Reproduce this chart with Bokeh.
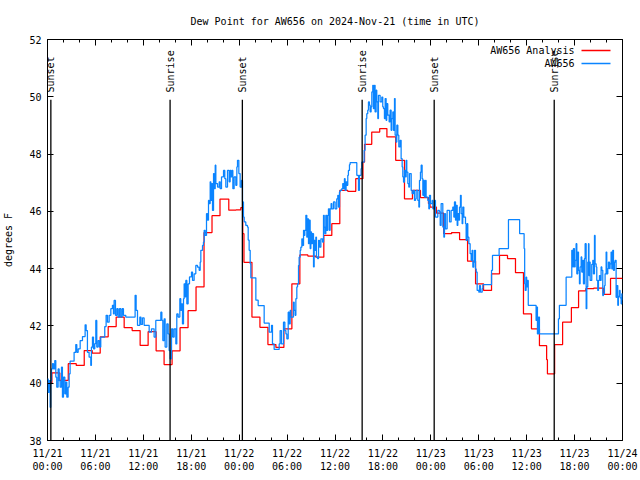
from bokeh.plotting import figure
from bokeh.models import FixedTicker, LinearAxis, Range1d, Label, Arrow
from bokeh.core.properties import value
from bokeh.embed import file_html
from bokeh.resources import INLINE

# ---------------- data ----------------
title_text = "Dew Point for AW656 on 2024-Nov-21 (time in UTC)"
y_label = "degrees F"
series_names = ["AW656 Analysis", "AW656"]

# hours since 2024-11-21 00:00 UTC
x_ticks = [0, 6, 12, 18, 24, 30, 36, 42, 48, 54, 60, 66, 72]
x_minor = list(range(0, 73, 2))
x_tick_labels = ["11/21\n00:00", "11/21\n06:00", "11/21\n12:00", "11/21\n18:00",
                 "11/22\n00:00", "11/22\n06:00", "11/22\n12:00", "11/22\n18:00",
                 "11/23\n00:00", "11/23\n06:00", "11/23\n12:00", "11/23\n18:00",
                 "11/24\n00:00"]
y_ticks = [38, 40, 42, 44, 46, 48, 50, 52]

sun_times = [0.42, 15.35, 24.4, 39.4, 48.42, 63.45]
sun_names = ["Sunset", "Sunrise", "Sunset", "Sunrise", "Sunset", "Sunrise"]

analysis_t = [0.0, 0.55, 1.55, 2.6, 3.6, 4.6, 5.6, 6.6, 7.6, 8.6, 9.6, 10.6, 11.6,
              12.6, 13.6, 14.6, 15.6, 16.6, 17.6, 18.6, 19.6, 20.6, 21.6, 22.7,
              23.6, 24.2, 24.45, 24.6, 25.6, 26.6, 27.6, 28.6, 29.6, 30.6, 31.6,
              32.6, 33.6, 34.6, 35.6, 36.6, 37.6, 38.6, 39.5, 39.7, 40.6, 41.6,
              42.5, 43.6, 44.7, 45.7, 46.7, 47.7, 47.9, 48.7, 49.6, 50.6, 51.6,
              52.6, 53.6, 54.6, 55.6, 56.6, 57.6, 58.6, 59.6, 60.6, 61.6, 62.5,
              62.6, 63.5, 64.5, 65.6, 66.5, 67.4, 68.4, 69.6, 70.5, 72.0]
analysis_v = [40.0, 40.36, 40.10, 40.68, 40.62, 41.14, 41.05, 41.62, 41.98, 42.31,
              41.94, 41.84, 41.32, 41.80, 41.13, 40.65, 41.13, 41.94, 42.53, 43.36,
              45.26, 45.85, 46.43, 46.04, 46.05, 46.13, 45.22, 44.22, 42.31, 41.95,
              41.35, 41.25, 41.90, 43.47, 44.48, 44.44, 44.40, 45.16, 45.57, 46.73,
              46.70, 47.14, 47.72, 48.34, 48.77, 48.89, 48.60, 47.78, 46.44, 46.73,
              46.48, 46.27, 46.15, 45.94, 45.22, 45.26, 45.01, 44.26, 43.47, 43.24,
              43.82, 44.46, 44.35, 43.86, 42.42, 41.90, 41.31, 40.82, 40.33, 41.35,
              42.13, 42.64, 43.22, 43.30, 43.32, 43.10, 43.66, 43.66]

obs_t = [0.0, 0.08, 0.2, 0.33, 0.41, 0.5, 0.62, 0.75, 0.91, 1.04, 1.16, 1.33, 1.46,
         1.58, 1.75, 1.87, 2.0, 2.17, 2.29, 2.42, 2.58, 2.71, 2.83, 3.33, 3.54, 3.67,
         3.84, 4.09, 4.38, 4.71, 4.84, 5.0, 5.21, 5.42, 5.5, 5.63, 5.76, 5.92, 6.05,
         6.17, 6.34, 6.51, 6.67, 7.17, 7.34, 7.51, 7.72, 7.93, 8.13, 8.26, 8.34, 8.51,
         8.68, 8.84, 9.01, 9.18, 9.35, 9.51, 9.8, 10.97, 11.1, 11.27, 11.56, 11.7,
         11.89, 12.1, 12.73, 13.02, 13.35, 13.56, 14.19, 14.32, 14.44, 14.61, 14.73,
         14.94, 15.11, 15.23, 15.36, 15.53, 15.69, 15.86, 16.07, 16.19, 16.36, 16.57,
         16.69, 16.78, 16.9, 17.03, 17.11, 17.24, 17.32, 17.45, 17.61, 17.78, 18.03,
         18.16, 18.36, 18.57, 18.78, 18.99, 19.12, 19.2, 19.41, 19.53, 19.62, 19.74,
         19.91, 20.03, 20.16, 20.24, 20.37, 20.45, 20.58, 20.66, 20.79, 20.87, 21.0,
         21.08, 21.29, 21.5, 21.62, 21.79, 22.04, 22.2, 22.33, 22.54, 22.75, 22.87,
         22.96, 23.08, 23.21, 23.37, 23.58, 23.71, 23.79, 23.96, 24.12, 24.29, 24.42,
         24.54, 24.63, 24.83, 25.04, 25.13, 25.25, 25.38, 25.46, 26.09, 26.38, 27.13,
         27.76, 28.05, 28.17, 28.38, 29.01, 29.13, 29.3, 29.55, 29.72, 29.85, 29.97,
         30.14, 30.26, 30.39, 30.47, 30.8, 30.89, 31.01, 31.1, 31.22, 31.31, 31.43,
         31.51, 31.64, 31.72, 31.85, 31.93, 32.06, 32.14, 32.22, 32.35, 32.47, 32.56,
         32.68, 32.77, 32.89, 32.98, 33.06, 33.18, 33.31, 33.39, 33.48, 33.6, 33.68,
         33.81, 33.94, 34.06, 34.23, 34.44, 34.56, 34.65, 34.73, 34.85, 34.98, 35.1,
         35.18, 35.3, 35.39, 35.51, 35.6, 35.81, 36.01, 36.22, 36.35, 36.43, 36.56,
         36.64, 36.85, 36.97, 37.06, 37.18, 37.27, 37.39, 37.48, 37.6, 37.68, 37.81,
         37.89, 38.73, 38.94, 39.06, 39.27, 39.35, 39.65, 39.77, 39.9, 39.98, 40.1,
         40.19, 40.31, 40.4, 40.52, 40.61, 40.73, 40.81, 40.94, 41.02, 41.15, 41.23,
         41.36, 41.44, 41.65, 41.86, 41.98, 42.07, 42.19, 42.28, 42.4, 42.48, 42.61,
         42.78, 42.9, 43.03, 43.11, 43.24, 43.32, 43.45, 43.53, 43.65, 43.74, 43.87,
         43.99, 44.16, 44.28, 44.41, 44.49, 44.58, 44.7, 44.83, 44.91, 44.99, 45.12,
         45.24, 45.33, 45.54, 45.66, 45.83, 45.95, 46.08, 46.16, 46.37, 46.5, 46.58,
         46.7, 46.79, 46.91, 47.0, 47.08, 47.2, 47.33, 47.41, 47.62, 47.75, 47.83,
         47.96, 48.17, 48.25, 48.46, 48.58, 48.87, 49.08, 49.17, 49.29, 49.5, 49.63,
         49.71, 49.84, 50.04, 50.34, 50.54, 50.75, 50.88, 50.96, 51.09, 51.17, 51.3,
         51.38, 51.5, 51.59, 51.71, 51.8, 51.92, 52.0, 52.13, 52.34, 52.42, 52.55,
         52.63, 52.76, 52.92, 53.05, 53.17, 53.26, 53.38, 53.47, 53.59, 53.68, 53.8,
         54.01, 54.09, 54.22, 54.43, 54.51, 55.6, 55.72, 56.55, 57.72, 59.12, 59.68,
         59.75, 59.82, 59.93, 60.0, 60.1, 60.2, 61.18, 61.27, 61.35, 61.48, 61.6,
         63.98, 64.1, 64.94, 65.65, 65.78, 65.86, 65.98, 66.07, 66.19, 66.28, 66.4,
         66.49, 66.61, 66.69, 66.82, 66.9, 67.03, 67.11, 67.24, 67.32, 67.45, 67.53,
         67.65, 67.74, 67.8, 67.86, 67.95, 68.15, 68.28, 68.36, 68.49, 68.57, 68.7,
         68.78, 68.9, 68.99, 69.11, 69.2, 69.32, 69.41, 69.53, 69.61, 69.74, 69.82,
         69.95, 70.03, 70.16, 70.24, 70.37, 70.45, 70.57, 70.66, 70.78, 70.87, 70.99,
         71.08, 71.2, 71.28, 71.41, 71.49, 71.62, 71.7, 71.83, 71.91, 72.0]
obs_v = [40.15, 39.68, 40.09, 39.16, 40.09, 40.5, 40.68, 40.5, 40.79, 40.21, 39.86,
         40.5, 40.09, 39.86, 40.56, 39.51, 40.21, 39.63, 40.04, 39.51, 39.86, 40.33,
         40.77, 41.08, 41.35, 41.08, 41.2, 41.49, 41.63, 42.04, 41.84, 41.08, 40.91,
         40.62, 41.26, 41.61, 41.2, 41.38, 42.19, 41.26, 41.49, 41.26, 41.61, 41.98,
         42.37, 42.13, 42.37, 42.6, 42.72, 42.42, 42.89, 42.37, 42.6, 42.31, 42.6,
         42.31, 42.6, 42.37, 42.31, 43.07, 42.54, 42.02, 42.31, 42.05, 42.28, 42.02,
         41.78, 41.9, 41.61, 42.19, 42.48, 42.19, 41.49, 42.25, 41.26, 42.07, 41.72,
         41.14, 40.85, 41.9, 41.61, 41.9, 41.37, 42.42, 42.31, 42.95, 42.54, 42.77,
         42.07, 42.95, 43.47, 43.01, 43.59, 42.77, 43.47, 43.71, 43.88, 43.59, 43.82,
         44.11, 44.05, 43.94, 44.23, 44.64, 44.81, 44.93, 45.34, 45.16, 45.92, 45.69,
         46.38, 46.27, 47.03, 46.38, 46.97, 46.03, 47.32, 46.79, 47.61, 46.97, 46.85,
         47.03, 46.79, 47.2, 47.43, 47.14, 46.85, 47.43, 47.03, 47.43, 47.2, 47.43,
         46.79, 47.2, 46.91, 47.55, 47.78, 47.32, 46.85, 47.08, 46.33, 45.8, 45.63,
         45.51, 45.45, 45.0, 44.64, 44.17, 43.68, 42.9, 42.71, 42.1, 41.78, 42.02,
         41.37, 41.18, 41.37, 41.84, 41.37, 42.13, 41.84, 41.72, 41.55, 42.48, 42.07,
         42.54, 42.31, 42.83, 42.54, 42.37, 42.95, 43.36, 43.47, 44.11, 44.4, 44.64,
         44.75, 45.04, 44.81, 45.34, 45.16, 45.34, 45.86, 45.1, 45.74, 44.87, 45.69,
         44.7, 45.28, 44.87, 45.22, 44.06, 44.99, 44.64, 45.1, 44.4, 44.35, 44.99,
         44.75, 45.04, 44.93, 45.86, 45.45, 45.22, 45.86, 45.34, 45.86, 46.09, 45.34,
         46.09, 46.27, 46.09, 46.33, 46.09, 46.44, 46.56, 46.15, 46.68, 46.73, 46.79,
         46.97, 46.79, 47.14, 46.73, 47.03, 46.91, 47.26, 47.43, 47.63, 47.7, 47.26,
         46.73, 47.26, 47.49, 47.72, 48.13, 48.66, 49.24, 49.41, 49.53, 49.82, 49.71,
         49.47, 49.65, 50.17, 50.4, 49.59, 50.4, 49.47, 50.23, 49.82, 49.24, 50.05,
         49.82, 49.99, 49.65, 49.59, 49.24, 49.94, 49.18, 49.76, 49.36, 49.12, 49.53,
         48.83, 49.24, 49.47, 48.83, 49.94, 48.66, 48.42, 49.01, 48.66, 48.25, 48.48,
         47.84, 47.55, 47.2, 47.02, 47.43, 47.2, 47.78, 47.37, 46.97, 46.85, 47.32,
         46.73, 46.62, 46.73, 46.38, 46.44, 46.73, 46.38, 46.15, 47.08, 47.37, 47.61,
         47.14, 46.56, 47.08, 46.5, 47.08, 46.5, 46.38, 46.09, 46.56, 46.27, 46.38,
         46.09, 46.38, 45.8, 46.03, 45.98, 45.51, 46.27, 45.45, 45.1, 45.92, 45.39,
         46.03, 45.63, 46.03, 46.15, 45.8, 46.33, 45.69, 46.21, 45.51, 45.92, 45.69,
         46.15, 46.56, 45.92, 45.57, 46.15, 45.8, 45.57, 44.99, 45.57, 45.1, 44.87,
         44.52, 44.29, 44.64, 44.05, 44.23, 44.64, 43.99, 43.88, 43.24, 43.18, 43.41,
         43.18, 43.3, 43.44, 43.94, 44.46, 44.7, 45.71, 45.22, 44.7, 43.47, 43.24,
         43.7, 43.36, 43.59, 42.72, 42.19, 42.66, 41.72, 42.31, 41.72, 42.25, 42.72,
         43.7, 44.64, 44.06, 44.7, 44.06, 44.29, 44.87, 43.82, 44.58, 43.94, 43.47,
         44.06, 44.41, 43.88, 44.29, 43.47, 44.35, 44.87, 42.6, 43.36, 44.23, 44.87,
         43.76, 44.23, 43.59, 44.15, 44.29, 43.82, 45.16, 44.17, 44.06, 43.59, 43.24,
         43.59, 43.76, 43.59, 44.06, 43.94, 43.06, 43.12, 43.41, 43.82, 44.58, 43.82,
         44.0, 44.23, 44.0, 44.17, 44.58, 43.99, 44.64, 43.94, 44.23, 44.29, 43.0,
         43.41, 42.72, 43.03, 43.24, 42.98, 42.77, 43.12, 42.9]

# ---------------- styles ----------------
FONT = "DejaVu Sans Mono"
FS = "10px"
RED = "#ff0000"
BLUE = "#0a84ff"
SUN_LINE_TOP = 49.9
SUN_LABEL_Y = 50.15

p = figure(width=640, height=480, x_range=Range1d(0, 72), y_range=Range1d(38, 52),
           output_backend="svg", toolbar_location=None,
           min_border_left=47, min_border_right=18, min_border_top=39, min_border_bottom=40,
           background_fill_color="white", border_fill_color="white")
p.grid.visible = False
p.outline_line_color = "black"
p.outline_line_width = 1

p.title.text = title_text
p.title.align = "center"
p.title.text_font = FONT
p.title.text_font_size = FS
p.title.text_font_style = "normal"
p.title.text_color = "black"
p.title.standoff = 26

xt = FixedTicker(ticks=x_ticks, minor_ticks=x_minor)
yt = FixedTicker(ticks=y_ticks, minor_ticks=[])


def style_axis(ax):
    ax.axis_line_color = None
    ax.major_tick_in = 6
    ax.major_tick_out = 0
    ax.minor_tick_in = 3
    ax.minor_tick_out = 0
    ax.major_tick_line_color = "black"
    ax.minor_tick_line_color = "black"
    ax.major_label_text_font = FONT
    ax.major_label_text_color = "black"
    ax.major_label_text_font_size = FS


xa = p.xaxis[0]
xa.ticker = xt
xa.major_label_overrides = {t: l for t, l in zip(x_ticks, x_tick_labels)}
style_axis(xa)
xa.major_label_standoff = 7

ya = p.yaxis[0]
ya.ticker = yt
style_axis(ya)
ya.major_label_standoff = 6
ya.axis_label = y_label
ya.axis_label_text_font = FONT
ya.axis_label_text_font_size = FS
ya.axis_label_text_font_style = "normal"
ya.axis_label_text_color = "black"
ya.axis_label_standoff = 12

# mirrored tick marks on the top and right borders (no labels)
top = LinearAxis(ticker=xt)
style_axis(top)
top.major_label_overrides = {t: "" for t in x_ticks}
top.major_label_standoff = 0
top.major_label_text_font_size = "1px"
p.add_layout(top, "above")
right = LinearAxis(ticker=yt)
style_axis(right)
right.major_label_overrides = {t: "" for t in y_ticks}
right.major_label_standoff = 0
right.major_label_text_font_size = "1px"
p.add_layout(right, "right")

# data series (step plots)
p.step(analysis_t, analysis_v, mode="after", line_color=RED, line_width=1.25)
p.step(obs_t, obs_v, mode="after", line_color=BLUE, line_width=1.25)

# sunrise / sunset markers
p.segment(x0=sun_times, y0=[SUN_LINE_TOP] * len(sun_times), x1=sun_times,
          y1=[38] * len(sun_times), line_color="black", line_width=1.3)
p.text(x=sun_times, y=[SUN_LABEL_Y] * len(sun_times), text=sun_names, angle=1.5708,
       text_align="left", text_baseline="middle", text_font=value(FONT),
       text_font_size=FS, text_color="black")

# gnuplot-style legend (text right-aligned, sample to its right)
leg_colors = [RED, BLUE]
for i, (name, col) in enumerate(zip(series_names, leg_colors)):
    yy = 390 - 13 * i
    p.add_layout(Label(x=527, y=yy, x_units="screen", y_units="screen", text=name,
                       text_align="right", text_baseline="middle", text_font=FONT,
                       text_font_size=FS, text_color="black"))
    p.add_layout(Arrow(end=None, x_start=534, y_start=yy, x_end=563, y_end=yy,
                       start_units="screen", end_units="screen",
                       line_color=col, line_width=1.3))

open("out.html", "w").write(file_html(p, INLINE))
